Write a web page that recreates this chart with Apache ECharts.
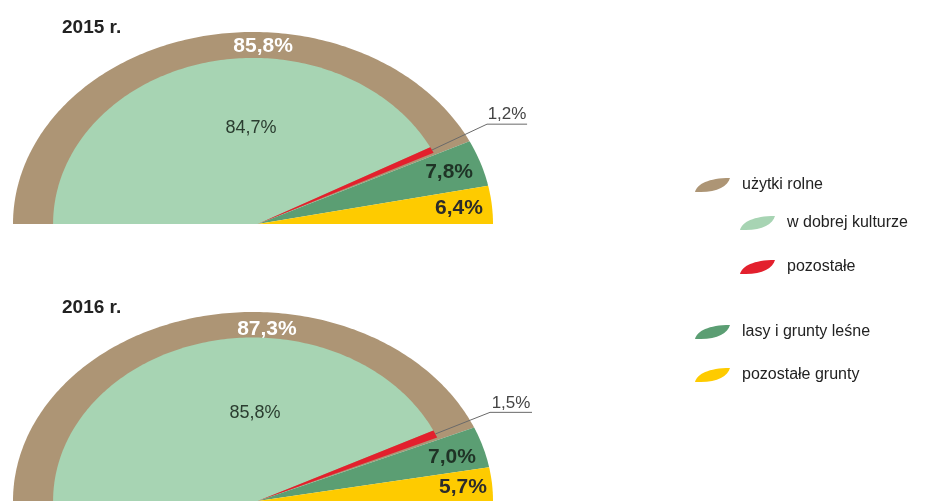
<!DOCTYPE html>
<html>
<head>
<meta charset="utf-8">
<script src="https://cdn.jsdelivr.net/npm/echarts@6/dist/echarts.min.js"></script>
<style>
  html, body { margin: 0; padding: 0; background: #fff; }
  #chart { width: 933px; height: 501px; }
</style>
</head>
<body>
<div id="chart"></div>
<script>
// dane (procent powierzchni)
const years = ['2015 r.', '2016 r.'];
const uzytkiRolne = [85.8, 87.3];
const wDobrejKulturze = [84.7, 85.8];
const pozostale = [1.2, 1.5];
const lasyIGrunty = [7.8, 7.0];
const pozostaleGrunty = [6.4, 5.7];

const FONT = 'Liberation Sans, Arial, sans-serif';
const INNER_RX = 0.833;
const INNER_RY = 0.865;
const APEX_U = 0.02;

// położenia etykiet w jednostkach osi (u, v) - dla każdego roku
const labelPos = {
  'użytki rolne': [[0.042, 0.927], [0.058, 0.911]],
  'w dobrej kulturze': [[-0.008, 0.5], [0.008, 0.464]],
  'lasy i grunty leśne': [[0.817, 0.271], [0.829, 0.234]],
  'pozostałe grunty': [[0.858, 0.083], [0.875, 0.073]]
};
// odnośnik dla 'pozostałe': łokieć (u, v) i koniec podkreślenia (u)
const leaderPos = [[0.975, 0.52, 1.142], [0.9875, 0.469, 1.1625]];

const styles = {
  'użytki rolne': { color: '#ad9575', text: '#ffffff', weight: 'bold', size: 21, rx: 1, ry: 1 },
  'lasy i grunty leśne': { color: '#5b9e73', text: '#1f3326', weight: 'bold', size: 21, rx: 1, ry: 1 },
  'pozostałe grunty': { color: '#fecb00', text: '#2b2b2b', weight: 'bold', size: 21, rx: 1, ry: 1 },
  'w dobrej kulturze': { color: '#a7d4b3', text: '#2b3d30', weight: 'normal', size: 18, rx: INNER_RX, ry: INNER_RY },
  'pozostałe': { color: '#e3202d', text: '#444444', weight: 'normal', size: 17, rx: INNER_RX, ry: INNER_RY }
};

const fmt = v => v.toFixed(1).replace('.', ',') + '%';

function angleOf(p) {
  return Math.PI * (1 - p / 100);
}

function makeRender(name, yearIdx) {
  const st = styles[name];
  return function (params, api) {
    const p0 = api.value(0), p1 = api.value(1), val = api.value(2);
    const pts = [api.coord([APEX_U, 0])];
    const n = Math.max(3, Math.ceil(Math.abs(p1 - p0) * 2));
    for (let i = 0; i <= n; i++) {
      const a = angleOf(p0 + (p1 - p0) * i / n);
      pts.push(api.coord([st.rx * Math.cos(a), st.ry * Math.sin(a)]));
    }
    const children = [{
      type: 'polygon',
      shape: { points: pts },
      style: { fill: st.color }
    }];
    const textStyle = {
      text: fmt(val), fill: st.text, fontSize: st.size, fontWeight: st.weight,
      fontFamily: FONT, align: 'center', verticalAlign: 'middle'
    };
    if (labelPos[name]) {
      const lp = api.coord(labelPos[name][yearIdx]);
      children.push({ type: 'text', x: lp[0], y: lp[1], style: textStyle });
    } else {
      const a = angleOf((p0 + p1) / 2);
      const tip = api.coord([st.rx * Math.cos(a), st.ry * Math.sin(a)]);
      const lp = leaderPos[yearIdx];
      const elbow = api.coord([lp[0], lp[1]]);
      const end = api.coord([lp[2], lp[1]]);
      children.push({
        type: 'polyline',
        shape: { points: [tip, elbow, end] },
        style: { stroke: '#6a6a6a', lineWidth: 1, fill: null }
      });
      textStyle.verticalAlign = 'bottom';
      children.push({ type: 'text', x: (elbow[0] + end[0]) / 2, y: elbow[1] - 1, style: textStyle });
    }
    return { type: 'group', children: children };
  };
}

const series = [];
years.forEach((y, i) => {
  const b = uzytkiRolne[i], l = lasyIGrunty[i], g = wDobrejKulturze[i];
  const parts = [
    ['użytki rolne', 0, b, uzytkiRolne[i]],
    ['lasy i grunty leśne', b, b + l, lasyIGrunty[i]],
    ['pozostałe grunty', b + l, b + l + pozostaleGrunty[i], pozostaleGrunty[i]],
    ['w dobrej kulturze', 0, g, wDobrejKulturze[i]],
    ['pozostałe', g, g + pozostale[i], pozostale[i]]
  ];
  parts.forEach(pt => {
    series.push({
      type: 'custom',
      name: pt[0],
      xAxisIndex: i,
      yAxisIndex: i,
      color: styles[pt[0]].color,
      silent: true,
      renderItem: makeRender(pt[0], i),
      data: [[pt[1], pt[2], pt[3]]]
    });
  });
});

// ikona legendy w kształcie liścia
const legendIcon = 'path://M0,16 C2,7 14,0 36,0 C34,9 23,16 6,16 Z';
const legendItems = [
  ['użytki rolne', 695, 185],
  ['w dobrej kulturze', 740, 223],
  ['pozostałe', 740, 267],
  ['lasy i grunty leśne', 695, 332],
  ['pozostałe grunty', 695, 375]
];

const chart = echarts.init(document.getElementById('chart'));
chart.setOption({
  animation: false,
  title: years.map((y, i) => ({
    text: y, left: 62, top: 18 + 280 * i, padding: 0,
    textStyle: { fontSize: 19, fontWeight: 'bold', color: '#222', fontFamily: FONT }
  })),
  grid: years.map((y, i) => ({ left: 13, width: 480, top: 32 + 280 * i, height: 192 })),
  xAxis: years.map((y, i) => ({ gridIndex: i, type: 'value', min: -1, max: 1, show: false })),
  yAxis: years.map((y, i) => ({ gridIndex: i, type: 'value', min: 0, max: 1, show: false })),
  legend: legendItems.map(it => ({
    data: [it[0]], left: it[1], top: it[2] - 8, padding: 0,
    icon: legendIcon, itemWidth: 35, itemHeight: 14, symbolKeepAspect: false,
    selectedMode: false,
    textStyle: { fontSize: 16, color: '#222', fontFamily: FONT, padding: [0, 0, 0, 7] }
  })),
  series: series
});
</script>
</body>
</html>
